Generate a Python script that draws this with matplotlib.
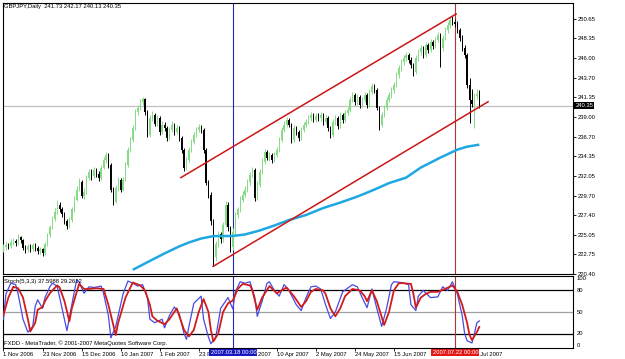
import matplotlib
matplotlib.use("Agg")
import matplotlib.pyplot as plt
import matplotlib.transforms as mtransforms

plt.rcParams['font.family'] = ['Liberation Sans', 'DejaVu Sans']

# GBPJPY daily bars, bar 0 = 1 Nov 2006, last bar = 3 Aug 2007
opens = [223.30, 223.55, 223.79, 223.67, 224.14, 224.26, 224.02, 224.73, 224.38, 223.43,
         223.19, 223.67, 223.31, 223.79, 223.43, 223.08, 223.31, 222.84, 223.90, 224.97,
         225.92, 226.98, 227.81, 228.64, 228.05, 227.57, 226.63, 226.15, 226.86, 228.05,
         229.23, 230.41, 231.36, 229.70, 230.18, 231.83, 232.54, 232.07, 232.78, 232.31,
         231.83, 233.02, 233.96, 234.56, 233.37, 230.41, 228.99, 230.65, 231.60, 230.41,
         231.60, 233.37, 235.15, 236.33, 237.75, 239.64, 240.12, 240.83, 241.18, 239.64,
         236.92, 238.93, 239.29, 238.22, 238.93, 237.28, 238.11, 237.75, 236.57, 237.51,
         238.11, 237.28, 237.75, 236.57, 235.15, 233.02, 233.96, 235.15, 236.09, 236.92,
         237.51, 237.87, 237.51, 235.15, 231.24, 229.82, 226.63, 222.37, 223.90, 225.09,
         224.50, 226.27, 228.64, 225.92, 223.55, 225.44, 227.45, 228.05, 229.23, 229.82,
         230.41, 231.36, 232.19, 232.78, 229.47, 231.01, 232.54, 233.73, 234.91, 234.20,
         234.56, 233.96, 234.56, 235.15, 236.33, 237.51, 238.11, 238.70, 238.11, 236.33,
         237.75, 237.28, 236.57, 237.51, 238.11, 238.46, 238.93, 239.29, 238.70, 239.17,
         238.93, 239.29, 238.46, 238.93, 237.75, 236.92, 238.46, 238.93, 237.99, 239.29,
         238.70, 239.53, 239.88, 241.06, 241.66, 240.83, 241.42, 240.47, 241.06, 241.66,
         240.47, 242.01, 242.72, 242.25, 240.12, 238.11, 239.29, 240.12, 241.06, 241.66,
         242.25, 242.84, 244.02, 244.85, 245.56, 246.03, 246.39, 245.80, 245.21, 244.38,
         246.03, 246.74, 247.22, 246.39, 247.57, 246.98, 247.93, 247.45, 248.16, 248.76,
         247.22, 248.40, 249.35, 249.94, 250.53, 250.29, 250.06, 249.35, 248.40, 247.22,
         246.39, 242.84, 241.06, 240.60, 241.50, 241.73]
highs = [223.95, 224.20, 224.10, 224.50, 224.65, 224.55, 225.10, 224.95, 224.60, 223.80,
         224.00, 223.90, 224.10, 224.05, 223.70, 223.65, 223.50, 224.20, 225.30, 226.20,
         227.30, 228.20, 229.15, 228.90, 228.40, 227.80, 226.90, 227.20, 228.40, 229.60,
         230.80, 231.80, 231.60, 230.60, 232.20, 232.90, 232.80, 233.10, 233.00, 232.60,
         233.30, 234.30, 234.90, 234.80, 233.60, 230.70, 231.00, 231.90, 231.80, 231.95,
         233.70, 235.50, 236.70, 238.10, 239.95, 240.50, 241.10, 241.45, 241.30, 239.80,
         239.30, 239.70, 239.50, 239.25, 239.10, 238.50, 238.40, 237.90, 237.85, 238.50,
         238.30, 238.10, 237.95, 236.80, 235.30, 234.30, 235.50, 236.40, 237.30, 237.85,
         238.20, 238.10, 237.70, 235.40, 231.50, 230.10, 226.90, 224.30, 225.50, 225.40,
         226.60, 229.00, 228.90, 226.10, 225.80, 227.80, 228.40, 229.60, 230.20, 230.80,
         231.70, 232.55, 233.10, 233.00, 231.40, 232.90, 234.10, 235.25, 235.10, 234.90,
         234.80, 234.90, 235.50, 236.70, 237.85, 238.50, 239.05, 238.95, 238.30, 238.10,
         238.00, 237.50, 237.85, 238.45, 238.80, 239.30, 239.65, 239.50, 239.50, 239.45,
         239.60, 239.50, 239.30, 239.10, 238.00, 238.80, 239.30, 239.15, 239.60, 239.50,
         239.90, 240.25, 241.40, 242.00, 241.90, 241.80, 241.60, 241.40, 242.00, 241.85,
         242.35, 243.10, 242.95, 242.40, 240.30, 239.65, 240.50, 241.40, 242.00, 242.60,
         243.20, 244.40, 245.20, 245.90, 246.40, 246.75, 246.60, 246.10, 245.40, 246.35,
         247.10, 247.60, 247.45, 247.90, 247.80, 248.30, 248.20, 248.50, 249.10, 248.95,
         248.75, 249.70, 250.30, 250.90, 250.95, 250.70, 250.40, 249.60, 248.70, 247.60,
         246.60, 243.60, 242.30, 241.90, 242.30, 242.17]
lows = [223.05, 223.30, 223.35, 223.50, 223.85, 223.70, 223.85, 224.10, 223.20, 222.90,
        222.95, 223.00, 223.10, 223.15, 222.75, 222.80, 222.48, 222.70, 223.70, 224.80,
        225.70, 226.70, 227.50, 227.70, 227.20, 226.30, 225.70, 225.90, 226.60, 227.80,
        229.00, 230.20, 229.40, 229.30, 229.90, 231.50, 231.60, 231.80, 231.90, 231.40,
        231.60, 232.80, 233.60, 233.00, 230.10, 228.60, 228.80, 230.30, 230.10, 230.20,
        231.40, 233.10, 234.90, 236.10, 237.50, 239.30, 239.80, 240.50, 239.30, 236.60,
        236.70, 238.50, 237.90, 237.95, 236.90, 237.00, 237.40, 236.20, 236.30, 237.20,
        236.90, 237.00, 236.20, 234.80, 232.60, 232.70, 233.70, 234.90, 235.80, 236.60,
        237.20, 237.10, 234.80, 230.90, 229.40, 226.20, 221.40, 222.00, 223.60, 224.10,
        224.20, 226.00, 225.50, 222.96, 223.30, 225.20, 227.10, 227.80, 228.90, 229.50,
        230.10, 231.00, 231.90, 229.10, 229.20, 230.70, 232.30, 233.50, 233.90, 233.85,
        233.60, 233.70, 234.30, 234.90, 236.10, 237.20, 237.80, 237.80, 235.90, 236.10,
        236.90, 236.20, 236.30, 237.20, 237.85, 238.15, 238.60, 238.40, 238.40, 238.60,
        238.60, 238.10, 238.20, 237.40, 236.50, 236.70, 238.10, 237.60, 237.70, 238.35,
        238.40, 239.20, 239.60, 240.80, 240.50, 240.50, 240.10, 240.20, 240.80, 240.10,
        240.20, 241.70, 241.90, 239.80, 237.50, 237.80, 239.00, 239.80, 240.80, 241.30,
        241.90, 242.60, 243.70, 244.50, 245.20, 245.70, 245.45, 244.85, 243.90, 244.10,
        245.70, 246.40, 246.05, 246.10, 246.60, 246.70, 247.10, 247.20, 247.90, 244.97,
        246.90, 248.10, 249.00, 249.60, 249.90, 249.70, 249.00, 248.00, 246.90, 246.00,
        242.50, 238.34, 240.20, 237.75, 241.10, 240.13]
closes = [223.55, 223.79, 223.67, 224.14, 224.26, 224.02, 224.73, 224.38, 223.43, 223.19,
          223.67, 223.31, 223.79, 223.43, 223.08, 223.31, 222.84, 223.90, 224.97, 225.92,
          226.98, 227.81, 228.64, 228.05, 227.57, 226.63, 226.15, 226.86, 228.05, 229.23,
          230.41, 231.36, 229.70, 230.18, 231.83, 232.54, 232.07, 232.78, 232.31, 231.83,
          233.02, 233.96, 234.56, 233.37, 230.41, 228.99, 230.65, 231.60, 230.41, 231.60,
          233.37, 235.15, 236.33, 237.75, 239.64, 240.12, 240.83, 241.18, 239.64, 236.92,
          238.93, 239.29, 238.22, 238.93, 237.28, 238.11, 237.75, 236.57, 237.51, 238.11,
          237.28, 237.75, 236.57, 235.15, 233.02, 233.96, 235.15, 236.09, 236.92, 237.51,
          237.87, 237.51, 235.15, 231.24, 229.82, 226.63, 222.37, 223.90, 225.09, 224.50,
          226.27, 228.64, 225.92, 223.55, 225.44, 227.45, 228.05, 229.23, 229.82, 230.41,
          231.36, 232.19, 232.78, 229.47, 231.01, 232.54, 233.73, 234.91, 234.20, 234.56,
          233.96, 234.56, 235.15, 236.33, 237.51, 238.11, 238.70, 238.11, 236.33, 237.75,
          237.28, 236.57, 237.51, 238.11, 238.46, 238.93, 239.29, 238.70, 239.17, 238.93,
          239.29, 238.46, 238.93, 237.75, 236.92, 238.46, 238.93, 237.99, 239.29, 238.70,
          239.53, 239.88, 241.06, 241.66, 240.83, 241.42, 240.47, 241.06, 241.66, 240.47,
          242.01, 242.72, 242.25, 240.12, 238.11, 239.29, 240.12, 241.06, 241.66, 242.25,
          242.84, 244.02, 244.85, 245.56, 246.03, 246.39, 245.80, 245.21, 244.38, 246.03,
          246.74, 247.22, 246.39, 247.57, 246.98, 247.93, 247.45, 248.16, 248.76, 247.22,
          248.40, 249.35, 249.94, 250.53, 250.29, 250.06, 249.35, 248.40, 247.22, 246.39,
          242.84, 241.06, 240.60, 241.50, 241.73, 240.35]

# moving average (blue) at some bars
ma_idx = [53, 60, 66, 72, 76, 81, 86, 94, 99, 105, 111, 117, 124, 131, 138, 145,
          152, 158, 165, 171, 179, 186, 190, 195]
ma_vals = [220.90, 221.95, 222.84, 223.67, 224.14, 224.61, 224.89, 224.91, 225.09, 225.56,
           226.15, 226.80, 227.40, 228.22, 228.87, 229.58, 230.41, 231.18, 231.83, 233.02,
           234.20, 235.15, 235.50, 235.74]

# channel lines (red)
chan_up_idx = [72.7, 185.5]
chan_up_price = [231.83, 251.24]
chan_lo_idx = [85.9, 198.6]
chan_lo_price = [221.30, 240.83]

# vertical lines
vline_blue = 94.2
vline_red = 185.2

# Stoch(5,3,3)
k_idx = [0, 1, 3, 5, 6, 8, 10, 12, 13, 14, 16, 17, 19, 20, 22, 24, 26, 28, 30, 31,
         33, 35, 37, 40, 41, 43, 44, 46, 49, 51, 53, 55, 57, 59, 60, 62, 65, 66, 68, 70,
         72, 74, 75, 76, 78, 81, 82, 84, 85, 87, 89, 92, 94, 95, 97, 99, 101, 103, 104, 106,
         108, 109, 111, 113, 115, 117, 120, 122, 124, 126, 128, 130, 132, 134, 136, 139, 143, 145, 147, 149,
         151, 153, 155, 157, 159, 160, 163, 166, 167, 169, 170, 172, 175, 178, 180, 182, 184, 186, 188, 189,
         190, 192, 193, 194, 195]
k_vals = [40, 75, 90, 88, 75, 40, 22, 30, 58, 67, 55, 70, 85, 90, 86, 55, 24, 60, 95, 92,
          76, 85, 84, 86, 76, 45, 14, 30, 75, 93, 90, 86, 88, 70, 40, 35, 40, 28, 45, 57,
          48, 20, 12, 30, 62, 72, 40, 15, 6, 15, 55, 70, 54, 78, 92, 90, 92, 70, 44, 65,
          90, 92, 80, 72, 88, 80, 60, 52, 70, 85, 86, 82, 60, 41, 50, 78, 88, 85, 70, 56,
          82, 55, 30, 55, 88, 92, 91, 88, 60, 52, 72, 80, 70, 71, 85, 80, 92, 75, 45, 20,
          10, 7, 20, 35, 37.6]
d_idx = [0, 2, 4, 6, 8, 10, 11, 13, 14, 16, 17, 19, 22, 23, 25, 27, 28, 31, 33, 35,
         38, 41, 43, 46, 47, 50, 53, 56, 58, 60, 61, 63, 66, 68, 71, 72, 74, 76, 78, 80,
         82, 84, 85, 86, 88, 90, 92, 94, 96, 98, 101, 102, 104, 106, 109, 112, 116, 119, 122, 124,
         126, 128, 131, 132, 134, 136, 138, 140, 143, 146, 148, 149, 151, 153, 156, 158, 160, 162, 164, 167,
         168, 169, 171, 173, 175, 178, 181, 184, 186, 188, 190, 191, 192, 194, 195]
d_vals = [46, 70, 85, 83, 70, 40, 23, 35, 53, 57, 65, 76, 87, 84, 65, 37, 55, 89, 82, 82,
          83, 82, 60, 18, 35, 70, 91, 87, 80, 60, 44, 38, 33, 40, 55, 45, 25, 16, 25, 50,
          68, 50, 25, 9, 20, 50, 62, 66, 82, 89, 87, 80, 53, 70, 86, 76, 84, 72, 57, 65,
          78, 82, 80, 75, 55, 44, 55, 72, 82, 80, 72, 65, 80, 65, 32, 50, 80, 90, 90, 89,
          75, 56, 70, 75, 78, 78, 82, 87, 78, 60, 35, 18, 11, 22, 29.26]
stoch_levels = [20, 50, 80]
stoch_labels = [100, 80, 50, 20, 0]

price_ticks = [250.65, 248.35, 246.00, 243.70, 241.35, 239.00, 236.70, 234.35, 232.05,
               229.70, 227.40, 225.05, 222.75, 220.40]
date_tick_idx = [0, 16, 32, 48, 64, 80, 96, 112, 128, 144, 160, 176, 192]
date_tick_labels = ['1 Nov 2006', '23 Nov 2006', '15 Dec 2006', '10 Jan 2007', '1 Feb 2007',
                    '23 Feb 2007', '19 Mar 2007', '10 Apr 2007', '2 May 2007', '24 May 2007',
                    '15 Jun 2007', '9 Jul 2007', '31 Jul 2007']

W, H = 625, 359
FS = 4.2
fig = plt.figure(figsize=(W / 100, H / 100), dpi=100)


def px_axes(x0, y0, x1, y1):
    # axes placed by pixel box (top-left origin)
    return fig.add_axes([x0 / W, 1 - y1 / H, (x1 - x0) / W, (y1 - y0) / H])


ax = px_axes(3, 3, 573, 274)
sx = px_axes(3, 276, 573, 348)

for a in (ax, sx):
    a.set_xlim(-0.2, 233.4)
    for s in a.spines.values():
        s.set_color('black')
        s.set_linewidth(0.8)

# candles
bull = '#86dc86'
n = len(closes)
xs = list(range(n))
colors = [bull if c >= o else 'black' for o, c in zip(opens, closes)]
ax.vlines(xs, lows, highs, colors=colors, lw=0.7, zorder=3)
body_h = [max(abs(c - o), 0.05) for o, c in zip(opens, closes)]
body_b = [min(o, c) for o, c in zip(opens, closes)]
ax.bar(xs, body_h, bottom=body_b, width=0.5, color=colors, linewidth=0, zorder=3)

# bid line
ax.axhline(closes[-1], color='#c0c0c0', lw=0.9, zorder=1)

# moving average and channel
ax.plot(ma_idx, ma_vals, color='#1ea8e2', lw=1.8, zorder=4, solid_capstyle='butt')
ax.plot(chan_up_idx, chan_up_price, color='#cc1515', lw=1.1, zorder=4)
ax.plot(chan_lo_idx, chan_lo_price, color='#cc1515', lw=1.1, zorder=4)

for a in (ax, sx):
    a.axvline(vline_blue, color='#2626b4', lw=0.8, zorder=2)
    a.axvline(vline_red, color='#b03535', lw=0.8, zorder=2)

ax.set_ylim(220.47, 252.54)
ax.yaxis.tick_right()
ax.set_yticks(price_ticks)
ax.set_yticklabels(['%.2f' % p for p in price_ticks])
ax.tick_params(axis='y', length=2, width=0.6, pad=1.5, labelsize=FS)
ax.set_xticks([])

# bid box on price axis
btrans = mtransforms.blended_transform_factory(ax.transAxes, ax.transData)
ax.text(1.004, closes[-1], '%.2f' % closes[-1], transform=btrans, ha='left', va='center',
        fontsize=FS, color='white', zorder=6,
        bbox=dict(boxstyle='square,pad=0.15', fc='black', ec='none'))

# stochastic panel
sx.set_ylim(0, 100)
for lv in stoch_levels:
    sx.axhline(lv, color='#a0a0a0' if lv == 50 else 'black', lw=0.9, zorder=1)
sx.plot(k_idx, k_vals, color='#4a4ae0', lw=0.9, zorder=3)
sx.plot(d_idx, d_vals, color='#d01c1c', lw=1.3, zorder=3)
sx.set_yticks([])
strans = mtransforms.blended_transform_factory(sx.transAxes, sx.transData)
for lv in stoch_labels:
    va = 'top' if lv == 100 else ('bottom' if lv == 0 else 'center')
    sx.text(1.006, lv, str(lv), transform=strans, ha='left', va=va, fontsize=FS)

sx.set_xticks(date_tick_idx)
sx.set_xticklabels(date_tick_labels, ha='left')
sx.tick_params(axis='x', length=2, width=0.6, pad=1.2, labelsize=FS)

# highlighted dates of the vertical lines (they cover the axis labels, as in the terminal)
xtrans = mtransforms.blended_transform_factory(sx.transData, sx.transAxes)
sx.text(vline_blue, -0.03, '2007.03.18 00:00', transform=xtrans, ha='center', va='top',
        fontsize=FS, color='white', zorder=6,
        bbox=dict(boxstyle='square,pad=0.2', fc='#1818c0', ec='none'))
sx.text(vline_red, -0.03, '2007.07.22 00:00', transform=xtrans, ha='center', va='top',
        fontsize=FS, color='white', zorder=6,
        bbox=dict(boxstyle='square,pad=0.2', fc='#e01818', ec='none'))

# labels
fig.text(4 / W, 1 - 6.5 / H, 'GBPJPY,Daily  241.73 242.17 240.13 240.35', fontsize=FS,
         va='center', ha='left')
fig.text(4 / W, 1 - 282 / H, 'Stoch(5,3,3) 37.5988 29.2612', fontsize=FS, va='center', ha='left')
fig.text(4 / W, 1 - 343 / H, 'FXDD - MetaTrader, \u00a9 2001-2007 MetaQuotes Software Corp.',
         fontsize=FS, va='center', ha='left')

fig.savefig('out.png', dpi=100)
